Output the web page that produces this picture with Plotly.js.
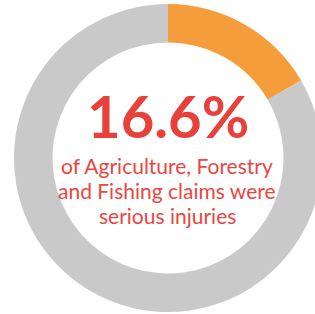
<!DOCTYPE html>
<html><head><meta charset="utf-8">
<script src="https://cdn.plot.ly/plotly-3.0.1.min.js"></script>
<style>html,body{margin:0;padding:0;overflow:hidden;background:#fff}#chart{width:330px;height:314px}</style>
</head><body><div id="chart"></div>
<script>
var labels = ["Serious injuries", "Other claims"];
var values = [16.6, 83.4];
var colors = ["#F59D3A", "#C9C9C9"];
var headline = "16.6%";
var subLines = ["of Agriculture, Forestry", "and Fishing claims were", "serious injuries"];

var W = 330, H = 314;
var trace = {
  type: "pie", labels: labels, values: values, sort: false, direction: "clockwise", rotation: 0,
  hole: 0.75, textinfo: "none", hoverinfo: "none",
  marker: {colors: colors, line: {width: 0}},
  domain: {x: [14/W, 322/W], y: [2/H, 310/H]}
};
var annotations = [
  {text: "<b>" + headline + "</b>", x: 168/W, y: 1 - 116/H, xref: "paper", yref: "paper",
   showarrow: false, xanchor: "center", yanchor: "middle",
   font: {family: "Lato", size: 58, color: "#E8403A"}}
];
subLines.forEach(function (t, i) {
  annotations.push({text: t, x: 167/W, y: 1 - (165 + 25 * i)/H, xref: "paper", yref: "paper",
    showarrow: false, xanchor: "center", yanchor: "middle",
    font: {family: "Lato", size: 21, color: "#EC4540"}});
});
var layout = {
  width: W, height: H, margin: {l:0,r:0,t:0,b:0}, showlegend: false,
  paper_bgcolor: "#fff", annotations: annotations
};
Plotly.newPlot("chart", [trace], layout, {staticPlot: true, displayModeBar: false});
</script></body></html>
